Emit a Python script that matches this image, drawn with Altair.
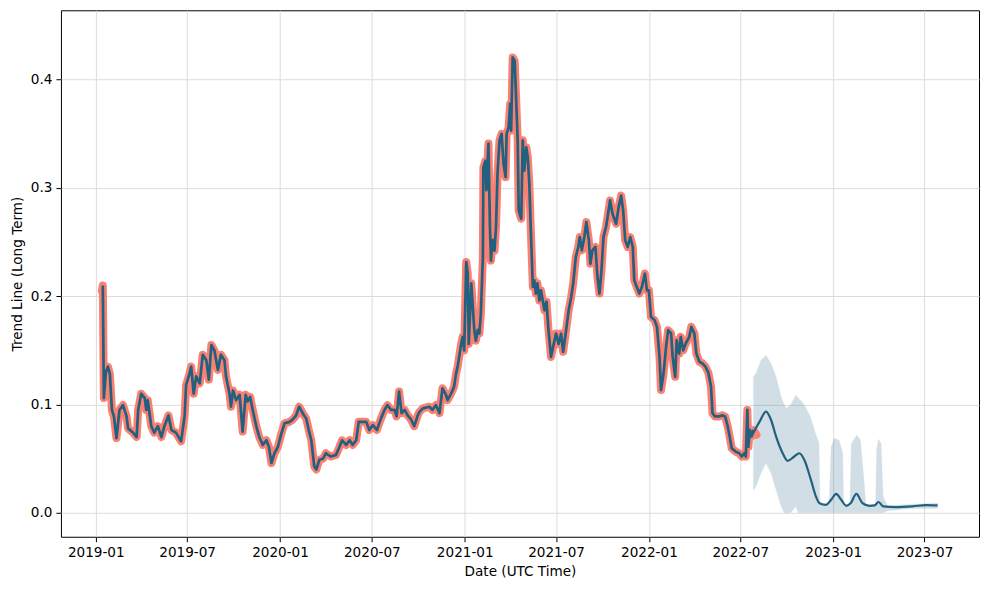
import altair as alt
import pandas as pd

# ---- observed series (actual) ----
hist_dates = [
    "2019-01-13", "2019-01-15", "2019-01-17", "2019-01-21", "2019-01-25", "2019-01-29", "2019-02-02", "2019-02-06",
    "2019-02-11", "2019-02-17", "2019-02-24", "2019-03-03", "2019-03-06", "2019-03-16", "2019-03-23", "2019-03-26",
    "2019-04-01", "2019-04-08", "2019-04-11", "2019-04-14", "2019-04-21", "2019-04-27", "2019-05-04", "2019-05-11",
    "2019-05-17", "2019-05-25", "2019-05-31", "2019-06-09", "2019-06-19", "2019-06-26", "2019-06-29", "2019-07-06",
    "2019-07-09", "2019-07-14", "2019-07-19", "2019-07-26", "2019-08-01", "2019-08-08", "2019-08-13", "2019-08-18",
    "2019-08-24", "2019-08-31", "2019-09-06", "2019-09-13", "2019-09-16", "2019-09-23", "2019-09-26", "2019-09-30",
    "2019-10-06", "2019-10-13", "2019-10-19", "2019-10-25", "2019-10-29", "2019-11-03", "2019-11-08", "2019-11-15",
    "2019-11-21", "2019-11-28", "2019-12-05", "2019-12-10", "2019-12-15", "2019-12-21", "2019-12-28", "2020-01-03",
    "2020-01-10", "2020-01-20", "2020-01-26", "2020-02-02", "2020-02-08", "2020-02-15", "2020-02-22", "2020-02-27",
    "2020-03-03", "2020-03-09", "2020-03-13", "2020-03-19", "2020-03-26", "2020-04-01", "2020-04-11", "2020-04-21",
    "2020-04-28", "2020-05-03", "2020-05-11", "2020-05-18", "2020-05-24", "2020-05-31", "2020-06-05", "2020-06-20",
    "2020-06-26", "2020-07-03", "2020-07-11", "2020-07-19", "2020-07-26", "2020-08-01", "2020-08-08", "2020-08-15",
    "2020-08-19", "2020-08-24", "2020-08-29", "2020-09-04", "2020-09-10", "2020-09-17", "2020-09-23", "2020-09-30",
    "2020-10-03", "2020-10-10", "2020-10-23", "2020-10-29", "2020-11-05", "2020-11-12", "2020-11-18", "2020-11-25",
    "2020-11-28", "2020-12-05", "2020-12-11", "2020-12-15", "2020-12-18", "2020-12-25", "2020-12-28", "2020-12-31",
    "2021-01-04", "2021-01-07", "2021-01-09", "2021-01-14", "2021-01-17", "2021-01-20", "2021-01-23", "2021-01-27",
    "2021-01-30", "2021-02-02", "2021-02-06", "2021-02-07", "2021-02-11", "2021-02-13", "2021-02-17", "2021-02-20",
    "2021-02-22", "2021-02-25", "2021-03-01", "2021-03-04", "2021-03-07", "2021-03-11", "2021-03-15", "2021-03-19",
    "2021-03-23", "2021-03-25", "2021-03-29", "2021-04-01", "2021-04-03", "2021-04-06", "2021-04-10", "2021-04-13",
    "2021-04-16", "2021-04-18", "2021-04-23", "2021-04-26", "2021-04-29", "2021-05-03", "2021-05-06", "2021-05-09",
    "2021-05-12", "2021-05-16", "2021-05-19", "2021-05-22", "2021-05-25", "2021-05-29", "2021-06-01", "2021-06-08",
    "2021-06-12", "2021-06-16", "2021-06-21", "2021-06-25", "2021-07-01", "2021-07-06", "2021-07-11", "2021-07-15",
    "2021-07-21", "2021-07-26", "2021-07-31", "2021-08-04", "2021-08-09", "2021-08-14", "2021-08-17", "2021-08-21",
    "2021-08-26", "2021-08-30", "2021-09-04", "2021-09-07", "2021-09-11", "2021-09-17", "2021-09-21", "2021-09-25",
    "2021-09-29", "2021-10-03", "2021-10-08", "2021-10-12", "2021-10-16", "2021-10-21", "2021-10-28", "2021-11-02",
    "2021-11-07", "2021-11-11", "2021-11-15", "2021-11-20", "2021-11-25", "2021-11-30", "2021-12-03", "2021-12-08",
    "2021-12-13", "2021-12-18", "2021-12-24", "2021-12-28", "2022-01-01", "2022-01-05", "2022-01-12", "2022-01-17",
    "2022-01-22", "2022-01-25", "2022-01-30", "2022-02-04", "2022-02-08", "2022-02-14", "2022-02-17", "2022-02-22",
    "2022-02-25", "2022-03-02", "2022-03-05", "2022-03-10", "2022-03-15", "2022-03-22", "2022-03-26", "2022-04-01",
    "2022-04-05", "2022-04-11", "2022-04-17", "2022-04-23", "2022-04-29", "2022-05-04", "2022-05-07", "2022-05-12",
    "2022-05-20", "2022-05-26", "2022-06-01", "2022-06-06", "2022-06-10", "2022-06-14", "2022-06-22", "2022-06-29",
    "2022-07-04", "2022-07-09", "2022-07-12", "2022-07-15", "2022-07-17", "2022-07-20", "2022-07-23", "2022-07-27",
    "2022-08-02",
]
hist_vals = [
    0.205, 0.210, 0.106, 0.130, 0.135, 0.128, 0.095, 0.089,
    0.069, 0.095, 0.0995, 0.089, 0.078, 0.074, 0.070, 0.095,
    0.110, 0.106, 0.095, 0.104, 0.080, 0.074, 0.080, 0.070,
    0.080, 0.090, 0.0765, 0.074, 0.066, 0.089, 0.118, 0.129,
    0.135, 0.110, 0.126, 0.1195, 0.146, 0.141, 0.123, 0.155,
    0.150, 0.132, 0.146, 0.141, 0.126, 0.110, 0.098, 0.113,
    0.104, 0.109, 0.075, 0.109, 0.103, 0.107, 0.095, 0.080,
    0.070, 0.0627, 0.067, 0.061, 0.046, 0.055, 0.061, 0.072,
    0.0827, 0.084, 0.086, 0.090, 0.098, 0.092, 0.087, 0.0765,
    0.067, 0.0427, 0.040, 0.049, 0.050, 0.055, 0.052, 0.0535,
    0.061, 0.067, 0.0627, 0.067, 0.0627, 0.067, 0.084, 0.084,
    0.0765, 0.081, 0.0765, 0.087, 0.095, 0.0995, 0.095, 0.095,
    0.089, 0.112, 0.092, 0.095, 0.090, 0.086, 0.080, 0.090,
    0.093, 0.0965, 0.098, 0.095, 0.0995, 0.092, 0.115, 0.109,
    0.104, 0.110, 0.1165, 0.129, 0.135, 0.156, 0.1625, 0.150,
    0.2316, 0.221, 0.156, 0.212, 0.190, 0.169, 0.159, 0.169,
    0.1655, 0.184, 0.236, 0.319, 0.325, 0.298, 0.341, 0.264,
    0.233, 0.252, 0.242, 0.264, 0.313, 0.344, 0.350, 0.322,
    0.310, 0.350, 0.356, 0.3776, 0.353, 0.4206, 0.4175, 0.3806,
    0.344, 0.279, 0.2716, 0.344, 0.316, 0.3376, 0.328, 0.304,
    0.261, 0.2086, 0.2147, 0.2025, 0.212, 0.196, 0.2055, 0.187,
    0.195, 0.169, 0.144, 0.153, 0.1656, 0.156, 0.1656, 0.1487,
    0.169, 0.187, 0.1994, 0.212, 0.236, 0.2455, 0.2547, 0.2424,
    0.2547, 0.2685, 0.2516, 0.230, 0.2424, 0.2455, 0.2178, 0.2025,
    0.224, 0.2547, 0.264, 0.276, 0.2885, 0.276, 0.267, 0.2823,
    0.293, 0.279, 0.2516, 0.2455, 0.2547, 0.2455, 0.2147, 0.2086,
    0.2025, 0.2086, 0.221, 0.2055, 0.2055, 0.181, 0.178, 0.1717,
    0.144, 0.1134, 0.1288, 0.1533, 0.1687, 0.1656, 0.144, 0.1256,
    0.1594, 0.147, 0.1625, 0.150, 0.1564, 0.1625, 0.1717, 0.1656,
    0.147, 0.1395, 0.138, 0.135, 0.129, 0.1164, 0.092, 0.089,
    0.089, 0.090, 0.089, 0.080, 0.0705, 0.0596, 0.0565, 0.055,
    0.052, 0.055, 0.052, 0.095, 0.061, 0.0765, 0.0705, 0.0765,
    0.072,
]

# ---- forecast trend ----
fc_dates = [
    "2022-07-23", "2022-08-08", "2022-08-21", "2022-08-31", "2022-09-10", "2022-09-23", "2022-10-03", "2022-10-16",
    "2022-10-26", "2022-11-05", "2022-11-18", "2022-11-28", "2022-12-05", "2022-12-18", "2022-12-28", "2023-01-07",
    "2023-01-17", "2023-01-27", "2023-02-05", "2023-02-16", "2023-02-28", "2023-03-14", "2023-03-24", "2023-04-01",
    "2023-04-10", "2023-05-05", "2023-06-07", "2023-07-04", "2023-07-27",
]
fc_vals = [
    0.0705, 0.084, 0.0934, 0.0857, 0.0703, 0.055, 0.048, 0.052,
    0.055, 0.0488, 0.0304, 0.015, 0.0089, 0.0074, 0.012, 0.0175,
    0.012, 0.0065, 0.009, 0.0175, 0.009, 0.0065, 0.0068, 0.010,
    0.006, 0.0053, 0.006, 0.0071, 0.0068,
]

# ---- forecast uncertainty band ----
band_dates = [
    "2022-07-27", "2022-08-01", "2022-08-11", "2022-08-21", "2022-08-31", "2022-09-10", "2022-09-20", "2022-09-26",
    "2022-09-30", "2022-10-09", "2022-10-19", "2022-10-24", "2022-10-29", "2022-11-07", "2022-11-17", "2022-11-27",
    "2022-12-04", "2022-12-06", "2022-12-24", "2022-12-28", "2023-01-03", "2023-01-13", "2023-01-20", "2023-01-22",
    "2023-02-03", "2023-02-06", "2023-02-17", "2023-02-24", "2023-03-02", "2023-03-07", "2023-03-26", "2023-03-28",
    "2023-04-01", "2023-04-06", "2023-04-10", "2023-04-19", "2023-06-06", "2023-07-27",
]
band_lower = [
    0.021, 0.024, 0.0366, 0.046, 0.0366, 0.021, 0.006, 0.0,
    0.0, 0.0, 0.006, 0.0, 0.0, 0.0, 0.0, 0.0,
    0.0, 0.0, 0.0, 0.0, 0.0, 0.0, 0.0, 0.0,
    0.0, 0.0, 0.0, 0.0, 0.0, 0.0, 0.0, 0.0,
    0.0, 0.0, 0.0, 0.002, 0.004, 0.004,
]
band_upper = [
    0.1256, 0.129, 0.141, 0.1456, 0.138, 0.1256, 0.107, 0.100,
    0.0965, 0.0995, 0.1088, 0.106, 0.104, 0.098, 0.0888, 0.0735,
    0.0642, 0.009, 0.008, 0.061, 0.0688, 0.067, 0.055, 0.006,
    0.006, 0.064, 0.072, 0.067, 0.0366, 0.0074, 0.007, 0.058,
    0.068, 0.064, 0.015, 0.0065, 0.008, 0.009,
]

y_ticks = [0.0, 0.1, 0.2, 0.3, 0.4]
x_tick_labels = ["2019-01", "2019-07", "2020-01", "2020-07", "2021-01", "2021-07",
                 "2022-01", "2022-07", "2023-01", "2023-07"]

BLUE = "#22607f"
SALMON = "#fa8072"
FONT = "DejaVu Sans"

hist = pd.DataFrame({"date": hist_dates, "value": hist_vals})
blue_hist = hist.iloc[1:-1]
fc = pd.DataFrame({"date": fc_dates, "value": fc_vals})
band = pd.DataFrame({"date": band_dates, "lower": band_lower, "upper": band_upper})

x_vals = [alt.DateTime(year=int(s[:4]), month=int(s[5:]), date=1, utc=True) for s in x_tick_labels]
x_scale = alt.Scale(type="utc",
                    domain=[alt.DateTime(year=2018, month=10, date=24, utc=True),
                            alt.DateTime(year=2023, month=10, date=17, utc=True)])
y_scale = alt.Scale(domain=[-0.0221, 0.4641], nice=False, zero=False)

x_enc = alt.X("date:T", scale=x_scale,
              axis=alt.Axis(values=x_vals, format="%Y-%m", title="Date (UTC Time)",
                            labelFlush=False, labelOverlap=False))
y_axis = alt.Axis(values=y_ticks, format=".1f", title="Trend Line (Long Term)")
y_enc = alt.Y("value:Q", scale=y_scale, axis=y_axis)

band_layer = alt.Chart(band).mark_area(
    color=BLUE, opacity=0.2, stroke=BLUE, strokeOpacity=0.25, strokeWidth=1
).encode(
    x=x_enc,
    y=alt.Y("lower:Q", scale=y_scale, axis=y_axis),
    y2="upper:Q",
)

salmon_layer = alt.Chart(hist).mark_line(
    color=SALMON, strokeWidth=8, strokeJoin="round", strokeCap="round"
).encode(x=x_enc, y=y_enc)

blue_hist_layer = alt.Chart(blue_hist).mark_line(
    color=BLUE, strokeWidth=2.7, strokeJoin="round"
).encode(x=x_enc, y=y_enc)

fc_layer = alt.Chart(fc).mark_line(
    color=BLUE, strokeWidth=2.2, interpolate="monotone"
).encode(x=x_enc, y=y_enc)

chart = alt.layer(band_layer, salmon_layer, blue_hist_layer, fc_layer).properties(
    width=919, height=527,
    autosize=alt.AutoSizeParams(type="none"),
    padding={"left": 53, "top": 2, "right": 2, "bottom": 45},
    background="white",
).configure_view(
    stroke="black", strokeWidth=1
).configure_axis(
    domain=False,
    grid=True, gridColor="#dcdcdc", gridWidth=1,
    ticks=True, tickColor="black", tickSize=5, tickWidth=1,
    labelFont=FONT, labelFontSize=13.6, labelColor="black", labelPadding=4,
    titleFont=FONT, titleFontSize=13.6, titleFontWeight="normal", titleColor="black",
).configure_axisX(
    titlePadding=5
).configure_axisY(
    titlePadding=6
)

chart.save("out.html", embed_options={"renderer": "svg", "actions": False})
